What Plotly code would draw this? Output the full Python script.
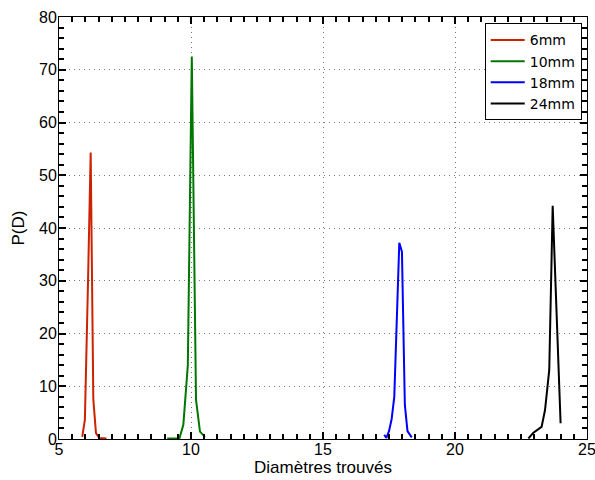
import plotly.graph_objects as go

# Data
x6 = [5.88, 5.98, 6.1, 6.2, 6.3, 6.4, 6.53, 6.8]
y6 = [0.4, 3.6, 30.0, 54.3, 7.5, 1.1, 0.2, 0.1]

x10 = [9.1, 9.56, 9.71, 9.88, 10.03, 10.19, 10.34, 10.53]
y10 = [0.1, 0.1, 2.7, 14.0, 72.5, 7.4, 1.4, 0.4]

x18 = [17.32, 17.4, 17.5, 17.6, 17.7, 17.8, 17.89, 17.99, 18.1, 18.2, 18.36]
y18 = [0.8, 0.2, 1.5, 3.8, 8.0, 24.0, 37.2, 35.5, 6.5, 1.5, 0.3]

x24 = [22.78, 22.97, 23.28, 23.41, 23.57, 23.7, 24.0]
y24 = [0.1, 1.2, 2.3, 5.5, 13.1, 44.2, 3.0]

series = [
    ("6mm", x6, y6, "#cc2200"),
    ("10mm", x10, y10, "#007700"),
    ("18mm", x18, y18, "#0000ff"),
    ("24mm", x24, y24, "#000000"),
]

FONT = "Liberation Sans, Arial, sans-serif"

fig = go.Figure()
for name, xs, ys, col in series:
    fig.add_trace(go.Scatter(x=xs, y=ys, mode="lines", name=name,
                             line=dict(color=col, width=2)))

axis_common = dict(
    showline=True, linecolor="black", linewidth=1, mirror="allticks",
    ticks="inside", ticklen=7, tickcolor="black", tickwidth=1.5,
    showgrid=True, gridcolor="#777777", griddash="1px,4px", gridwidth=1,
    zeroline=False, automargin=False, ticklabeloverflow="allow",
    tickfont=dict(family=FONT, size=16, color="black"),
)

fig.update_xaxes(range=[5, 25], dtick=5, tick0=5, ticklabelstandoff=-4,
                 minor=dict(ticks="inside", dtick=0.5, tick0=5, ticklen=5, tickcolor="black", tickwidth=1.5, showgrid=False),
                 title=dict(text="Diamètres trouvés", font=dict(family=FONT, size=17, color="black"), standoff=0),
                 **axis_common)
fig.update_yaxes(range=[0, 80], dtick=10, ticklabelstandoff=-2,
                 minor=dict(ticks="inside", dtick=2, tick0=0, ticklen=5, tickcolor="black", tickwidth=1.5, showgrid=False),
                 title=dict(text="P(D)", font=dict(family=FONT, size=17, color="black"), standoff=10),
                 **axis_common)

fig.update_layout(
    width=595, height=480,
    margin=dict(l=59, r=8, t=17, b=41),
    plot_bgcolor="white", paper_bgcolor="white",
    font=dict(family=FONT, size=16, color="black"),
    legend=dict(x=0.99, y=0.985, xanchor="right", yanchor="top",
                bgcolor="white", bordercolor="black", borderwidth=1,
                font=dict(family="DejaVu Sans, sans-serif", size=14, color="black"),
                tracegroupgap=0, itemwidth=34),
    showlegend=True,
)

fig.write_html("out.html", post_script="document.body.style.margin='0';",
               config={"displayModeBar": False})
